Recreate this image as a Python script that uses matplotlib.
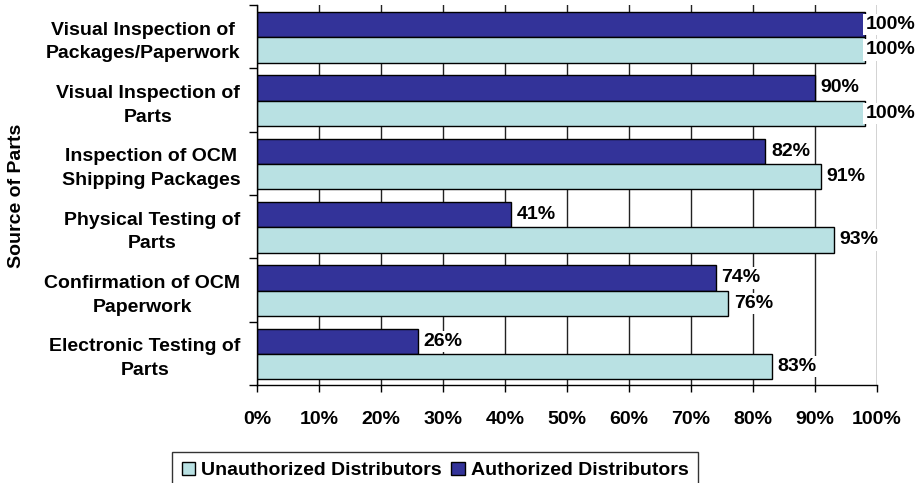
import numpy as np
import matplotlib
matplotlib.use('Agg')
import matplotlib.pyplot as plt
from matplotlib.patches import Patch

plt.rcParams['font.family'] = ['Liberation Sans', 'DejaVu Sans']
plt.rcParams['font.weight'] = 'bold'

categories = ['Visual Inspection of\nPackages/Paperwork',
              'Visual Inspection of\nParts',
              'Inspection of OCM\nShipping Packages',
              'Physical Testing of\nParts',
              'Confirmation of OCM\nPaperwork',
              'Electronic Testing of\nParts']
# bar lengths as drawn (the "100%" bars stop just short of the 100% line)
authorized = [0.98, 0.90, 0.82, 0.41, 0.74, 0.26]
unauthorized = [0.98, 0.98, 0.91, 0.93, 0.76, 0.83]
authorized_labels = ['100%', '90%', '82%', '41%', '74%', '26%']
unauthorized_labels = ['100%', '100%', '91%', '93%', '76%', '83%']

dark = '#333399'
light = '#B9E1E3'
fs = 14

fig = plt.figure(figsize=(9.17, 4.83), dpi=100)
ax = fig.add_axes([257/917, 1-385/483, 620/917, 380/483])

y = np.arange(len(categories))
h = 0.4
ax.barh(y - 0.19, authorized, height=h, color=dark, edgecolor='black', linewidth=1, zorder=2)
ax.barh(y + 0.21, unauthorized, height=h, color=light, edgecolor='black', linewidth=1, zorder=2)

def put_label(v, yy, s):
    # keep the label inside the figure when the bar reaches the right edge
    ax.text(min(v + 0.009, 0.9815), yy, s, fontsize=fs, fontweight='bold',
            va='center', ha='left', zorder=3,
            bbox=dict(facecolor='white', edgecolor='none', pad=1.5))

for i in range(len(categories)):
    put_label(authorized[i], y[i] - 0.19, authorized_labels[i])
    put_label(unauthorized[i], y[i] + 0.21, unauthorized_labels[i])

ax.set_xlim(0, 1)
ax.set_ylim(len(categories) - 0.5, -0.5)
ax.set_xticks(np.arange(0, 1.01, 0.1))
ax.set_xticklabels([f'{int(round(v*100))}%' for v in np.arange(0, 1.01, 0.1)], fontsize=fs, fontweight='bold')
ax.xaxis.grid(True, color='#222222', linewidth=1, zorder=0)
ax.set_axisbelow(True)

ax.set_yticks(np.arange(len(categories) + 1) - 0.5)
ax.set_yticklabels([])
ax.set_yticks(y, minor=True)
ax.set_yticklabels(categories, minor=True, fontsize=fs, fontweight='bold',
                   multialignment='center', linespacing=1.5)
ax.tick_params(axis='y', which='minor', length=0, pad=12)
ax.tick_params(axis='y', which='major', length=6, width=1, direction='out')
ax.tick_params(axis='x', length=5, width=1, direction='out', pad=14)

ax.spines['top'].set_visible(False)
ax.spines['right'].set_visible(False)
ax.spines['left'].set_linewidth(1)
ax.spines['bottom'].set_linewidth(1)

fig.text(17/917, 1-196/483, 'Source of Parts', rotation=90, fontsize=fs, fontweight='bold',
         ha='center', va='center')

handles = [Patch(facecolor=light, edgecolor='black', label='Unauthorized Distributors'),
           Patch(facecolor=dark, edgecolor='black', label='Authorized Distributors')]
leg = fig.legend(handles=handles, loc='upper center', bbox_to_anchor=(435/917, 1-452/483),
                 ncol=2, frameon=True, fancybox=False, handlelength=0.7,
                 handleheight=0.7, handletextpad=0.3, columnspacing=0.5, borderpad=0.5,
                 borderaxespad=0, prop={'weight': 'bold', 'size': fs})
leg.get_frame().set_edgecolor('black')
leg.get_frame().set_linewidth(1)

fig.savefig('out.png', dpi=100)
